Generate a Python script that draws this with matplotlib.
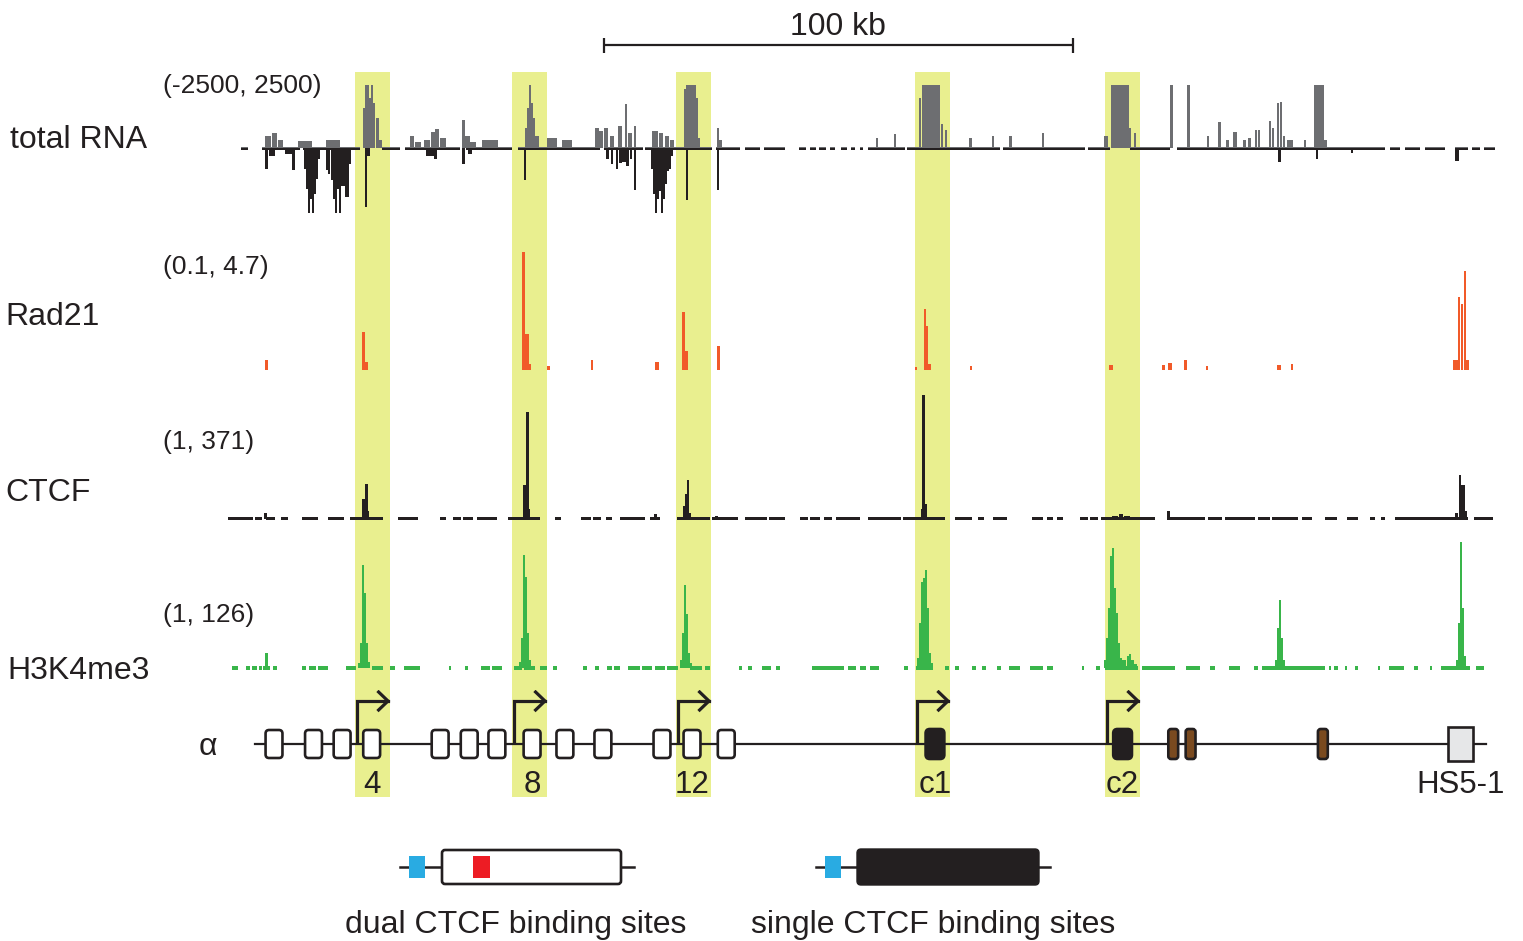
import matplotlib
matplotlib.use("Agg")
import matplotlib.pyplot as plt
from matplotlib.patches import FancyBboxPatch, Rectangle

plt.rcParams['font.family'] = ['Liberation Sans', 'DejaVu Sans']

INK = '#231f20'
GREY = '#6d6e71'
ORANGE = '#f15a29'
GREEN = '#39b54a'
HILITE = '#e9ef8f'
BLUE = '#29abe2'
RED = '#ed1c24'
BROWN = '#7a4a1f'
HS_FILL = '#e6e7e8'

# ---------------- genomic window (kb) ----------------
x_range = (-1.07, 270.77)

# total RNA, sense strand: (position kb, bin width kb, signal)
rna_plus = [
    (8.10, 1.28, 480), (9.38, 1.07, 600), (10.66, 1.07, 320), (15.99, 2.98, 280), (21.96, 2.98, 320),
    (28.57, 0.43, 1590), (29.00, 0.43, 2500), (29.42, 0.43, 2500), (29.85, 0.43, 2000), (30.27, 0.43, 2500),
    (30.70, 0.43, 1800), (31.34, 0.64, 1200), (31.98, 0.64, 320),
    (38.80, 0.85, 480), (40.08, 1.28, 240), (42.00, 1.28, 320), (43.28, 0.85, 640), (44.13, 0.85, 750),
    (45.41, 1.28, 400), (49.68, 0.64, 1110), (50.53, 1.28, 480), (51.81, 1.28, 240), (55.43, 3.41, 320),
    (63.11, 0.43, 800), (63.53, 0.43, 1590), (63.96, 0.43, 2500), (64.39, 0.43, 1790), (64.81, 0.43, 1190),
    (65.45, 0.85, 480), (68.65, 2.13, 400), (71.85, 2.13, 320),
    (78.24, 0.85, 800), (79.10, 0.85, 670), (80.16, 0.85, 800), (81.44, 0.85, 480), (83.15, 0.85, 870),
    (84.43, 0.43, 1750), (85.28, 0.85, 600), (86.35, 0.43, 870),
    (90.61, 1.28, 670), (91.89, 0.85, 600), (93.17, 0.85, 480), (94.23, 0.85, 320),
    (97.00, 0.43, 2350), (97.43, 0.43, 2500), (97.86, 0.43, 2500), (98.29, 0.43, 2500), (98.72, 0.43, 2500),
    (99.14, 0.43, 2500), (99.57, 0.43, 2000), (100.00, 0.43, 400),
    (104.04, 0.43, 800), (104.68, 0.64, 320), (137.94, 0.43, 400), (141.78, 0.43, 560),
    (147.11, 0.43, 2000), (149.45, 3.84, 2500), (151.80, 0.43, 950), (152.65, 0.43, 710),
    (157.98, 0.64, 400), (162.67, 0.43, 480), (166.30, 0.64, 480), (173.33, 0.43, 600),
    (186.76, 0.85, 480), (189.75, 3.84, 2500), (191.88, 0.43, 800), (192.95, 0.43, 600),
    (200.83, 0.64, 2500), (204.46, 0.64, 2500),
    (208.51, 0.43, 480), (211.07, 0.64, 1030), (212.77, 0.64, 320), (214.27, 0.64, 640), (216.19, 0.64, 320),
    (217.46, 0.64, 400), (218.74, 0.43, 710), (219.38, 0.43, 710), (221.73, 0.43, 1070), (222.37, 0.43, 800),
    (223.43, 0.43, 1790), (224.07, 0.43, 1830), (224.71, 0.43, 480), (225.99, 1.28, 320), (229.19, 0.43, 320),
    (232.17, 2.13, 2500), (233.67, 0.64, 320),
]

# total RNA, antisense strand
rna_minus = [
    (7.68, 0.64, -830), (8.95, 1.28, -320), (12.58, 1.71, -240), (13.43, 0.64, -870),
    (15.99, 0.43, -830), (16.42, 0.43, -1590), (16.84, 0.43, -2550), (17.27, 0.43, -1990), (17.70, 0.43, -2550),
    (18.12, 0.43, -1790), (18.55, 0.43, -1190), (18.98, 0.43, -400),
    (20.68, 0.43, -870), (21.11, 0.43, -1000), (21.75, 0.43, -1230), (22.17, 0.43, -1990), (22.60, 0.43, -2550),
    (23.03, 0.43, -1590), (23.45, 0.43, -2550), (23.88, 0.43, -1500), (24.30, 0.43, -1500), (24.73, 0.43, -1910),
    (25.16, 0.43, -1900), (25.58, 0.43, -600),
    (29.00, 0.43, -2300), (29.63, 0.64, -320),
    (42.64, 1.71, -320), (43.71, 0.64, -400), (49.68, 0.64, -600), (51.17, 0.85, -240),
    (62.89, 0.43, -1230),
    (80.38, 0.64, -400), (81.44, 0.43, -600), (82.51, 0.43, -830), (83.15, 0.64, -560), (84.00, 0.85, -520),
    (84.85, 0.64, -680), (85.49, 0.43, -400), (86.35, 0.43, -1630),
    (89.97, 0.43, -800), (90.40, 0.43, -1800), (90.82, 0.43, -2550), (91.25, 0.43, -2000), (91.68, 0.43, -1700),
    (92.10, 0.43, -2550), (92.53, 0.43, -2000), (92.96, 0.43, -1400), (93.38, 0.43, -900), (93.81, 0.43, -800),
    (94.23, 0.43, -300),
    (97.43, 0.43, -2030), (104.04, 0.43, -1630),
    (223.86, 0.64, -520), (231.75, 0.43, -400), (239.21, 0.43, -200), (261.60, 0.85, -480),
]

# low-level RNA coverage along the locus: (start kb, end kb)
rna_background = [
    (2.35, 3.84), (6.82, 14.92), (15.56, 27.72), (32.41, 36.24), (37.31, 49.04), (50.32, 60.12),
    (61.40, 78.88), (79.74, 88.05), (88.48, 102.76), (103.62, 108.73), (109.80, 113.00), (113.85, 118.33),
    (121.31, 122.80), (123.66, 124.94), (125.58, 127.07), (127.92, 128.99), (130.27, 131.54),
    (132.40, 133.25), (134.32, 134.96), (136.02, 143.91), (144.34, 164.16), (164.80, 182.29),
    (182.93, 187.62), (191.88, 200.41), (201.90, 246.25), (247.31, 249.44), (250.51, 253.71),
    (254.77, 259.04), (261.17, 263.94), (264.79, 266.50), (267.35, 269.70),
]

# Rad21 ChIP-seq
rad21_peaks = [
    (7.68, 0.64, 0.49), (28.36, 0.64, 1.60), (29.00, 0.64, 0.41), (62.47, 0.64, 4.70), (63.32, 0.85, 1.52),
    (63.85, 0.43, 0.34), (67.80, 0.64, 0.26), (77.18, 0.43, 0.49), (91.04, 0.85, 0.41), (96.58, 0.64, 2.38),
    (97.43, 0.64, 0.85), (104.25, 0.64, 1.04), (146.26, 0.43, 0.22), (148.18, 0.43, 2.46), (148.60, 0.43, 1.83),
    (149.03, 0.64, 0.34), (157.98, 0.43, 0.26), (187.83, 0.85, 0.30), (198.92, 0.64, 0.30), (200.41, 0.85, 0.38),
    (203.82, 0.64, 0.49), (208.30, 0.43, 0.26), (223.65, 0.85, 0.30), (226.42, 0.43, 0.34),
    (261.30, 1.00, 0.49), (262.03, 0.43, 2.93), (262.67, 0.43, 2.66), (263.30, 0.43, 3.96), (263.80, 0.64, 0.49),
]

# CTCF ChIP-seq
ctcf_peaks = [
    (7.46, 0.64, 17), (28.36, 0.64, 58), (29.00, 0.64, 102), (29.42, 0.43, 23), (62.68, 0.64, 99),
    (63.32, 0.64, 313), (63.75, 0.43, 29), (90.82, 0.64, 15), (96.79, 0.43, 38), (97.22, 0.43, 73),
    (97.65, 0.43, 113), (98.07, 0.43, 17), (103.62, 0.64, 9), (147.54, 0.43, 29), (147.96, 0.64, 363),
    (148.39, 0.43, 44), (188.68, 1.28, 9), (189.96, 0.85, 15), (191.24, 1.28, 9), (200.19, 0.64, 23),
    (261.60, 0.64, 17), (262.24, 0.43, 128), (262.67, 0.43, 99), (263.09, 0.43, 99), (263.52, 0.43, 23),
]
ctcf_background = [
    (-0.43, 4.90), (5.33, 6.82), (7.68, 9.59), (10.87, 12.37), (15.35, 18.76), (20.89, 24.30), (25.58, 32.62),
    (35.82, 40.08), (44.77, 46.05), (47.54, 49.25), (49.68, 51.81), (52.66, 56.92), (59.27, 66.09),
    (69.29, 70.57), (74.83, 76.97), (77.39, 79.10), (80.16, 81.44), (83.15, 88.48), (89.54, 91.68),
    (95.30, 102.34), (102.76, 108.31), (109.80, 114.49), (114.91, 118.33), (121.52, 123.23), (123.66, 125.79),
    (126.64, 128.35), (129.20, 134.32), (136.02, 143.06), (143.48, 152.44), (154.57, 158.19), (159.47, 160.75),
    (162.67, 165.66), (170.99, 173.33), (174.18, 175.46), (176.32, 177.60), (181.22, 182.93), (183.35, 185.06),
    (185.70, 197.21), (199.77, 207.87), (208.51, 211.49), (212.13, 218.53), (219.17, 221.73), (222.15, 227.70),
    (228.55, 230.68), (233.45, 236.00), (238.14, 240.49), (243.05, 244.11), (245.39, 246.25), (248.38, 263.94),
    (265.22, 269.27),
]

# H3K4me3 ChIP-seq
h3k4me3_peaks = [
    (7.68, 0.64, 15),
    (27.50, 0.43, 5), (27.93, 0.43, 25), (28.36, 0.43, 103), (28.78, 0.43, 75), (29.21, 0.43, 25), (29.63, 0.43, 6),
    (61.83, 0.43, 6), (62.25, 0.43, 30), (62.68, 0.43, 113), (63.11, 0.43, 91), (63.53, 0.43, 35), (63.96, 0.43, 8),
    (96.15, 0.43, 8), (96.58, 0.43, 35), (97.00, 0.43, 83), (97.43, 0.43, 54), (97.86, 0.43, 15), (98.29, 0.43, 5),
    (146.68, 0.43, 10), (147.11, 0.43, 45), (147.54, 0.43, 86), (147.96, 0.43, 90), (148.39, 0.43, 98),
    (148.82, 0.43, 60), (149.24, 0.43, 15), (149.67, 0.43, 5),
    (186.55, 0.43, 8), (186.98, 0.43, 30), (187.40, 0.43, 60), (187.83, 0.43, 112), (188.25, 0.43, 120),
    (188.68, 0.43, 80), (189.11, 0.43, 55), (189.53, 0.43, 25), (189.96, 0.43, 10), (190.60, 0.85, 8),
    (191.45, 0.43, 12), (191.88, 0.43, 14), (192.52, 0.64, 8), (193.16, 0.64, 4),
    (223.00, 0.43, 8), (223.43, 0.43, 40), (223.86, 0.43, 68), (224.28, 0.43, 30), (224.71, 0.43, 8),
    (261.60, 0.43, 8), (262.03, 0.43, 45), (262.45, 0.43, 126), (262.88, 0.43, 60), (263.30, 0.43, 12),
]
h3k4me3_background = [
    (0.43, 1.71), (3.41, 4.26), (4.69, 5.76), (6.18, 6.82), (7.04, 8.53), (9.17, 10.02), (15.35, 16.20),
    (16.84, 18.34), (18.76, 20.89), (24.73, 26.86), (30.27, 32.62), (34.11, 35.18), (37.10, 40.51),
    (46.69, 47.12), (50.10, 50.74), (53.51, 55.43), (55.86, 57.99), (60.55, 62.25), (62.68, 65.03),
    (66.09, 67.58), (68.86, 69.72), (75.26, 76.11), (77.82, 78.67), (80.38, 81.44), (81.87, 83.15),
    (84.85, 87.41), (87.84, 89.97), (90.61, 92.74), (93.17, 95.51), (98.07, 100.63), (101.27, 102.34),
    (108.52, 109.16), (110.44, 111.29), (113.42, 115.34), (116.41, 117.26), (124.08, 130.90), (131.76, 133.46),
    (134.32, 135.60), (136.45, 138.37), (143.70, 144.55), (146.26, 149.88), (152.44, 153.29), (154.57, 155.42),
    (158.19, 159.05), (160.33, 161.18), (163.52, 164.38), (166.08, 168.43), (170.56, 173.33), (174.18, 175.46),
    (181.65, 182.07), (184.63, 185.48), (186.55, 193.59), (194.44, 201.47), (203.82, 206.80), (208.94, 210.00),
    (212.99, 215.33), (218.32, 219.17), (220.02, 233.45), (234.31, 234.73), (235.37, 236.22), (237.71, 238.14),
    (239.85, 240.49), (244.75, 245.18), (247.10, 250.30), (252.43, 253.29), (255.84, 256.26), (258.19, 264.37),
    (265.65, 267.35),
]

track_names = ["total RNA", "Rad21", "CTCF", "H3K4me3"]
track_ranges = ["(-2500, 2500)", "(0.1, 4.7)", "(1, 371)", "(1, 126)"]

# gene model (kb)
variable_exons = [9.38, 17.80, 23.90, 30.20, 44.80, 51.00, 56.90, 64.40, 71.40, 79.50, 92.10, 98.50, 105.80]
variable_labels = {3: "4", 7: "8", 11: "12"}
constant_exons = [150.3, 190.3]
constant_labels = ["c1", "c2"]
brown_exons = [201.1, 204.8, 233.0]
hs51_pos = 262.3
gene_span = (5.3, 267.8)
# promoter windows highlighted across all tracks (centre kb)
promoter_centers = [30.38, 63.85, 98.82, 149.77, 190.28]
scale_start, scale_length = 79.7, 100

# ---------------- figure ----------------
W, H = 1523, 941
fig = plt.figure(figsize=(W / 100, H / 100), dpi=100)


def px_axes(top, bottom, left=225, right=1500, z=1):
    ax = fig.add_axes([left / W, 1 - bottom / H, (right - left) / W, (bottom - top) / H], zorder=z)
    ax.set_xlim(*x_range)
    ax.patch.set_alpha(0)
    ax.axis('off')
    return ax


def draw_bins(ax, bins, color):
    pos, wid, val = zip(*bins)
    ax.bar(pos, val, width=wid, color=color, linewidth=0)


def draw_background(ax, segs, lo, hi, color):
    starts = [s for s, e in segs]
    widths = [e - s for s, e in segs]
    ax.bar(starts, [hi - lo] * len(segs), width=widths, bottom=lo, align='edge', color=color, linewidth=0)


# highlighted promoter regions
band_half = 3.73
ax_band = px_axes(72, 797, z=0)
ax_band.set_ylim(0, 1)
for c in promoter_centers:
    ax_band.axvspan(c - band_half, c + band_half, color=HILITE, linewidth=0)

# scale bar
ax_scale = px_axes(10, 60)
ax_scale.set_ylim(0, 1)
ax_scale.plot([scale_start, scale_start + scale_length], [0.3, 0.3], color=INK, lw=1.6, solid_capstyle='butt')
for xe in (scale_start, scale_start + scale_length):
    ax_scale.plot([xe, xe], [0.15, 0.45], color=INK, lw=1.6, solid_capstyle='butt')
ax_scale.text(scale_start + scale_length / 2, 0.66, f"{scale_length} kb", ha='center', va='center',
              fontsize=23, color=INK)

# total RNA
ax_rna = px_axes(85, 213)
ax_rna.set_ylim(-2550, 2500)
draw_background(ax_rna, rna_background, 0, 70, GREY)
draw_background(ax_rna, rna_background, -80, 0, INK)
draw_bins(ax_rna, rna_plus, GREY)
draw_bins(ax_rna, rna_minus, INK)

# Rad21
ax_rad = px_axes(252, 370)
ax_rad.set_ylim(0.1, 4.7)
draw_bins(ax_rad, rad21_peaks, ORANGE)

# CTCF
ax_ctcf = px_axes(392, 520)
ax_ctcf.set_ylim(-4, 371)
draw_background(ax_ctcf, ctcf_background, -5, 6, INK)
draw_bins(ax_ctcf, ctcf_peaks, INK)

# H3K4me3
ax_k4 = px_axes(542, 670)
ax_k4.set_ylim(-2, 126)
draw_background(ax_k4, h3k4me3_background, -2, 2.5, GREEN)
draw_bins(ax_k4, h3k4me3_peaks, GREEN)

# gene model
ax_gene = px_axes(690, 800)
ax_gene.set_ylim(-56, 54)
aspect = 1.0 / ((x_range[1] - x_range[0]) / 1275)
ax_gene.plot(gene_span, [0, 0], color=INK, lw=1.6, zorder=1)


def exon(x, w, h, face, r):
    ax_gene.add_patch(FancyBboxPatch((x - w / 2, -h / 2), w, h,
                                     boxstyle=f"round,pad=0,rounding_size={r}",
                                     mutation_aspect=aspect, facecolor=face,
                                     edgecolor=INK, lw=1.9, zorder=3))


for x in variable_exons:
    exon(x, 3.6, 28, 'white', 0.75)
for x in constant_exons:
    exon(x, 4.0, 30, INK, 0.9)
for x in brown_exons:
    exon(x, 2.1, 30, BROWN, 0.6)
ax_gene.add_patch(Rectangle((hs51_pos - 2.65, -17), 5.3, 34, facecolor=HS_FILL, edgecolor=INK, lw=1.9, zorder=3))

# transcription start arrows
for c in promoter_centers:
    x0, x1, ya = c - 3.3, c + 3.3, 43
    ax_gene.plot([x0, x0, x1], [2, ya, ya], color=INK, lw=2.3, solid_joinstyle='miter', zorder=4)
    ax_gene.plot([x1 - 2.0, x1, x1 - 2.0], [ya + 9, ya, ya - 9], color=INK, lw=2.3,
                 solid_joinstyle='miter', zorder=4)

exon_label_items = [(variable_exons[i], t) for i, t in variable_labels.items()]
exon_label_items += list(zip(constant_exons, constant_labels)) + [(hs51_pos, "HS5-1")]
for x, t in exon_label_items:
    ax_gene.text(x, -41, t, ha='center', va='center', fontsize=22.5, color=INK, zorder=5)

# labels and legend, laid out on a full-figure canvas
canvas = fig.add_axes([0, 0, 1, 1], zorder=5)
canvas.set_xlim(0, W)
canvas.set_ylim(H, 0)
canvas.patch.set_alpha(0)
canvas.axis('off')

name_pos = [(10, 140), (5, 317), (5, 493), (7, 671)]
range_pos = [86, 267, 442, 615]
for (x, y), name in zip(name_pos, track_names):
    canvas.text(x, y, name, ha='left', va='center', fontsize=23, color=INK)
for y, rng in zip(range_pos, track_ranges):
    canvas.text(163, y, rng, ha='left', va='center', fontsize=19, color=INK)
canvas.text(208, 747, "α", ha='center', va='center', fontsize=23, color=INK)

# legend: dual CTCF sites (promoter + exon site)
canvas.plot([400, 634], [867, 867], color=INK, lw=1.8, zorder=1)
canvas.add_patch(FancyBboxPatch((442, 850), 179, 34, boxstyle="round,pad=0,rounding_size=3",
                                facecolor='white', edgecolor=INK, lw=1.9, zorder=2))
canvas.add_patch(Rectangle((409, 856), 16, 22, facecolor=BLUE, lw=0, zorder=3))
canvas.add_patch(Rectangle((473, 856), 17, 22, facecolor=RED, lw=0, zorder=3))
canvas.text(516, 925, "dual CTCF binding sites", ha='center', va='center', fontsize=23, color=INK)

# legend: single CTCF site
canvas.plot([816, 1050], [867, 867], color=INK, lw=1.8, zorder=1)
canvas.add_patch(FancyBboxPatch((857, 849), 182, 36, boxstyle="round,pad=0,rounding_size=4",
                                facecolor=INK, edgecolor=INK, lw=1, zorder=2))
canvas.add_patch(Rectangle((825, 856), 16, 22, facecolor=BLUE, lw=0, zorder=3))
canvas.text(933, 925, "single CTCF binding sites", ha='center', va='center', fontsize=23, color=INK)

fig.savefig("out.png", dpi=100)
